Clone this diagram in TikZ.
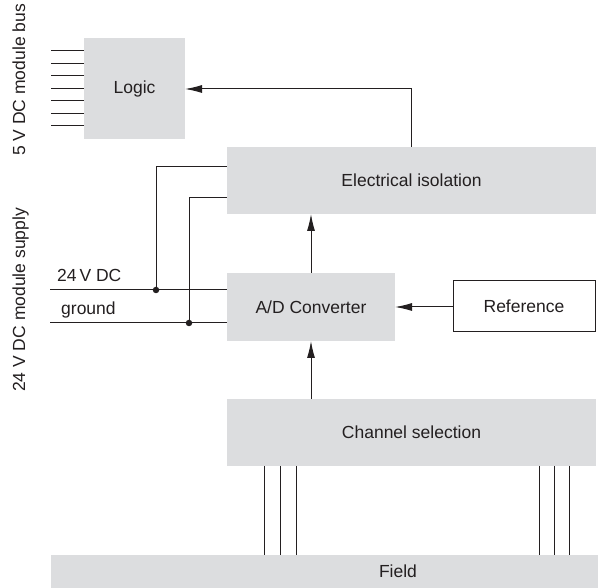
\documentclass[tikz,border=0pt]{standalone}
\usepackage{fontspec}
\setmainfont{Liberation Sans}
\usetikzlibrary{arrows.meta}
\definecolor{boxgray}{HTML}{DCDDDF}
\definecolor{ink}{HTML}{231F20}
\begin{document}
\begin{tikzpicture}[x=1pt,y=-1pt,
  every node/.style={font=\fontsize{17.5}{20}\selectfont, text=ink},
  block/.style={fill=boxgray, draw=none, inner sep=0pt},
  refbox/.style={fill=white, draw=ink, line width=1pt, inner sep=0pt},
  wire/.style={draw=ink, line width=1pt},
  arr/.style={wire, -{Latex[length=17pt,width=8pt]}},
  junction/.style={circle, fill=ink, inner sep=0pt, minimum size=6.5pt}]
\useasboundingbox (0,0) rectangle (598,588);

% boxes
\path[block] (84,38) rectangle (185,139);
\node (logic) at (134.5,88.5) {Logic};
\path[block] (227,147) rectangle (596,214);
\node (iso) at (411.5,180.5) {Electrical isolation};
\path[block] (227,273) rectangle (395,341);
\node (ad) at (311,307) {A/D Converter};
\path[refbox] (453,281) rectangle (595,332);
\node (ref) at (524,306.5) {Reference};
\path[block] (227,399) rectangle (596,466);
\node (chan) at (411.5,432.5) {Channel selection};
\path[block] (51,555) rectangle (598,588);
\node (field) at (398,571.5) {Field};

% named coordinates
\coordinate (logicE) at (185,89);
\coordinate (isoTop) at (411,147);
\coordinate (isoBot) at (311,214);
\coordinate (adTop) at (311,273);
\coordinate (adBot) at (311,341);
\coordinate (adE) at (395,307);
\coordinate (refW) at (453,307);
\coordinate (chanTop) at (311,399);

% arrows
\draw[arr] (isoTop) |- (logicE);
\draw[arr] (adTop) -- (isoBot);
\draw[arr] (chanTop) -- (adBot);
\draw[arr] (refW) -- (adE);

% bus lines
\foreach \y in {51,63.5,76,88.5,101,113.5,126}
  \draw[wire] (51,\y) -- (84,\y);

% supply lines
\coordinate (vin) at (50,290);
\coordinate (vad) at (227,290);
\coordinate (gin) at (50,323);
\coordinate (gad) at (227,323);
\draw[wire] (vin) -- (vad);
\draw[wire] (gin) -- (gad);
\node[junction] (j1) at (156,290) {};
\node[junction] (j2) at (189,323) {};
\coordinate (iso1) at (227,167);
\coordinate (iso2) at (227,198);
\draw[wire] (j1.center) |- (iso1);
\draw[wire] (j2.center) |- (iso2);
\node[anchor=base west, inner sep=0pt] (lv) at (57,282) {24\,V DC};
\node[anchor=base west, inner sep=0pt] (lg) at (61,315) {ground};

% channel lines
\foreach \x in {264,280,296,539,554,569}
  \draw[wire] (\x,466) -- (\x,555);

% rotated labels
\node[rotate=90, anchor=base, inner sep=0pt] (busl) at (25,80) {5 V DC module bus};
\node[rotate=90, anchor=base, inner sep=0pt] (supl) at (25,300) {24 V DC module supply};
\end{tikzpicture}
\end{document}
